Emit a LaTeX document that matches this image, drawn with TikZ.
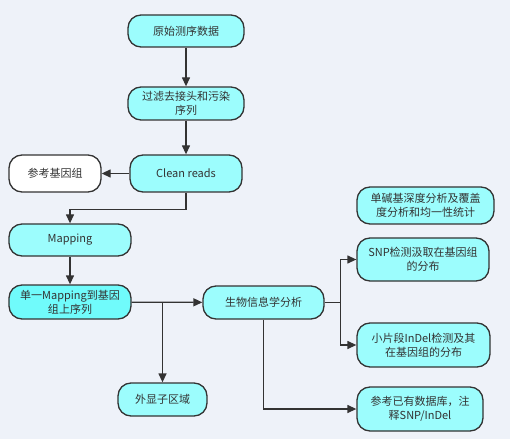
\documentclass[tikz,border=0pt]{standalone}
\usepackage{fontspec}
\setmainfont{Noto Sans CJK SC}
\usetikzlibrary{arrows.meta}
\definecolor{bgcol}{HTML}{EEF2F9}
\definecolor{boxcol}{HTML}{9CFDFD}
\definecolor{boxdeep}{HTML}{70FBFB}
\definecolor{linecol}{HTML}{333333}
\begin{document}
\begin{tikzpicture}[x=1bp, y=-1bp,
    box/.style={draw=linecol, line width=1.3bp, fill=boxcol, rounded corners=13bp,
      align=center, inner sep=0pt, text=linecol,
      font=\fontsize{11bp}{14bp}\selectfont},
    arr/.style={-{Triangle[length=9bp,width=8bp]}, line width=1.3bp, draw=linecol},
    ln/.style={line width=1.3bp, draw=linecol}]
  \fill[bgcol] (0,0) rectangle (510,439);
  % main column
  \node[box, minimum width=116bp, minimum height=32bp] (raw) at (186,31) {原始测序数据};
  \node[box, minimum width=116bp, minimum height=33bp] (filt) at (186,103.5) {过滤去接头和污染\\序列};
  \node[box, minimum width=112bp, minimum height=37bp] (clean) at (186,173.5) {Clean reads};
  \node[box, fill=white, minimum width=92bp, minimum height=37bp] (ref) at (55,173.5) {参考基因组};
  % left column
  \node[box, minimum width=122bp, minimum height=32bp] (map) at (70,240) {Mapping};
  \node[box, fill=boxdeep, minimum width=122bp, minimum height=34bp] (uniq) at (70,302) {单一Mapping到基因\\组上序列};
  \node[box, minimum width=89bp, minimum height=33bp] (exon) at (162.5,399.5) {外显子区域};
  \node[box, minimum width=121bp, minimum height=33bp] (bio) at (263.5,302.5) {生物信息学分析};
  % right column
  \node[box, minimum width=137bp, minimum height=37bp] (depth) at (425.5,205.5) {单碱基深度分析及覆盖\\度分析和均一性统计};
  \node[box, minimum width=132bp, minimum height=43bp] (snp) at (423,259.5) {SNP检测汲取在基因组\\的分布};
  \node[box, minimum width=133bp, minimum height=44bp] (indel) at (423.5,345) {小片段InDel检测及其\\在基因组的分布};
  \node[box, minimum width=126bp, minimum height=44bp] (db) at (420,409) {参考已有数据库，注\\释SNP/InDel};
  % connectors
  \draw[arr] (raw) -- (filt);
  \draw[arr] (filt) -- (clean);
  \draw[arr] (clean) -- (ref);
  \draw[arr] (clean.south) -- ++(0,17) -| (map.north);
  \draw[arr] (map) -- (uniq);
  \draw[arr] (uniq) -- (bio);
  \draw[arr] (exon.north |- uniq.east) -- (exon.north);
  \draw[ln] (bio.east) -- ++(16,0) coordinate (fork);
  \draw[arr] (fork) |- (snp.west);
  \draw[arr] (fork) |- (indel.west);
  \draw[arr] (bio.south) |- (db.west);
\end{tikzpicture}
\end{document}
